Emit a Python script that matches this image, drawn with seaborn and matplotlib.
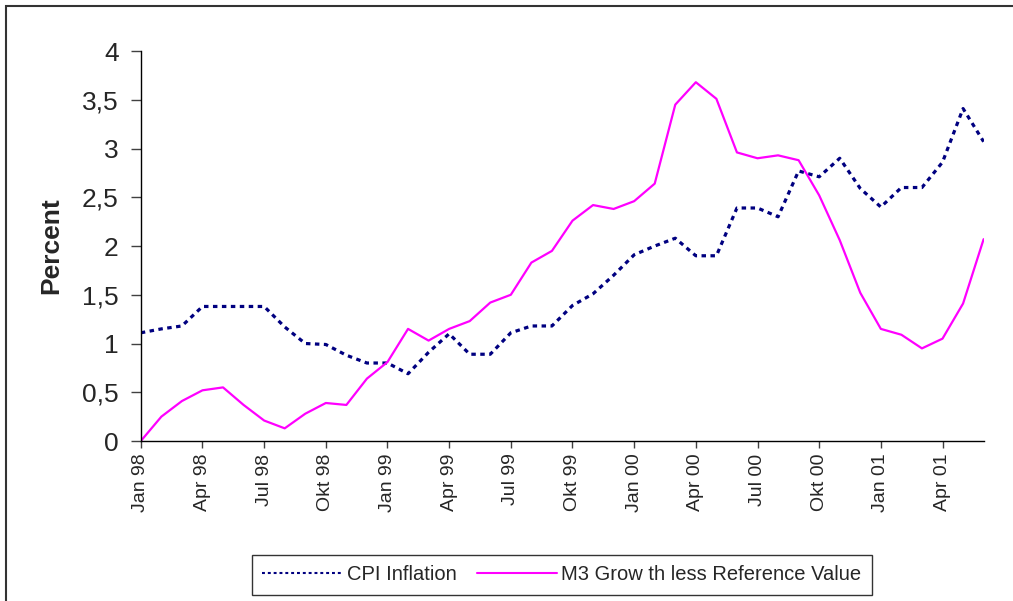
import matplotlib
matplotlib.use("Agg")
import matplotlib.pyplot as plt
import pandas as pd
import seaborn as sns
from matplotlib.patches import Rectangle

# monthly data, Jan 98 .. Jun 01
months = [
	"Jan 98", "Feb 98", "Mar 98", "Apr 98", "May 98", "Jun 98", "Jul 98", "Aug 98", "Sep 98", "Okt 98", "Nov 98", "Dez 98",
	"Jan 99", "Feb 99", "Mar 99", "Apr 99", "May 99", "Jun 99", "Jul 99", "Aug 99", "Sep 99", "Okt 99", "Nov 99", "Dez 99",
	"Jan 00", "Feb 00", "Mar 00", "Apr 00", "May 00", "Jun 00", "Jul 00", "Aug 00", "Sep 00", "Okt 00", "Nov 00", "Dez 00",
	"Jan 01", "Feb 01", "Mar 01", "Apr 01", "May 01", "Jun 01",
]
cpi_inflation = [
	1.11, 1.15, 1.18, 1.38, 1.38, 1.38, 1.38, 1.17, 1.00, 0.99, 0.88, 0.80,
	0.80, 0.69, 0.91, 1.10, 0.89, 0.89, 1.11, 1.18, 1.18, 1.39, 1.51, 1.70,
	1.91, 2.00, 2.08, 1.90, 1.90, 2.39, 2.39, 2.30, 2.77, 2.71, 2.90, 2.59,
	2.40, 2.60, 2.60, 2.86, 3.41, 3.07,
]
m3_gap = [
	0.00, 0.25, 0.41, 0.52, 0.55, 0.37, 0.21, 0.13, 0.28, 0.39, 0.37, 0.64,
	0.81, 1.15, 1.03, 1.15, 1.23, 1.42, 1.50, 1.83, 1.95, 2.26, 2.42, 2.38,
	2.46, 2.64, 3.45, 3.68, 3.51, 2.96, 2.90, 2.93, 2.88, 2.52, 2.06, 1.52,
	1.15, 1.09, 0.95, 1.05, 1.41, 2.07,
]
y_ticks = [0, 0.5, 1, 1.5, 2, 2.5, 3, 3.5, 4]
y_tick_labels = ["0", "0,5", "1", "1,5", "2", "2,5", "3", "3,5", "4"]

df = pd.DataFrame({
	"idx": range(len(months)),
	"month": months,
	"CPI Inflation": cpi_inflation,
	"M3 Grow th less Reference Value": m3_gap,
})
long_df = df.melt(id_vars=["idx", "month"], var_name="series", value_name="value")

sns.set_theme(style="white")
plt.rcParams["font.family"] = ["Liberation Sans", "DejaVu Sans"]

fig = plt.figure(figsize=(10.13, 6.01), dpi=100)
ax = fig.add_axes([0.139, 0.2662, 0.832, 0.6489])

sns.lineplot(
	data=long_df,
	x="idx",
	y="value",
	hue="series",
	style="series",
	palette={"CPI Inflation": "#000080", "M3 Grow th less Reference Value": "#FF00FF"},
	dashes={"CPI Inflation": (1.4, 1.4), "M3 Grow th less Reference Value": ""},
	errorbar=None,
	ax=ax,
)
ax.get_lines()[0].set_linewidth(2.3)
ax.get_lines()[1].set_linewidth(1.6)

ax.set_xlim(0, len(months) - 1)
ax.set_ylim(0, 4)
tick_pos = list(range(0, len(months), 3))
ax.set_xticks(tick_pos)
ax.set_xticklabels([months[i] for i in tick_pos], rotation=90, fontsize=14)
ax.set_yticks(y_ticks)
ax.set_yticklabels(y_tick_labels, fontsize=19)
ax.tick_params(axis="y", direction="out", length=7, width=1, color="#404040", pad=9, left=True)
ax.tick_params(axis="x", direction="out", length=5, width=1, color="#404040", pad=4, bottom=True)

ax.set_xlabel("")
ax.set_ylabel("Percent", fontsize=19, fontweight="bold")
ax.yaxis.set_label_coords(-0.092, 0.5)

sns.despine(ax=ax)
for side in ["left", "bottom"]:
	ax.spines[side].set_color("black")
	ax.spines[side].set_linewidth(1.0)

handles, labels = ax.get_legend_handles_labels()
leg = ax.legend(
	handles,
	labels,
	loc="center",
	bbox_to_anchor=(562 / 1013, 1 - 575 / 601),
	bbox_transform=fig.transFigure,
	ncol=2,
	frameon=True,
	fancybox=False,
	edgecolor="black",
	fontsize=14.5,
	handlelength=4.0,
	columnspacing=1.0,
	handletextpad=0.2,
	borderpad=0.5,
)
leg.get_frame().set_linewidth(1.0)

# outer chart frame (cut off at right and bottom)
fig.patches.append(Rectangle(
	(6 / 1013, -0.1), 1.2, 1 - 6 / 601 + 0.1,
	transform=fig.transFigure, fill=False, edgecolor="#333333", linewidth=1.5,
))

fig.savefig("out.png", dpi=100)
